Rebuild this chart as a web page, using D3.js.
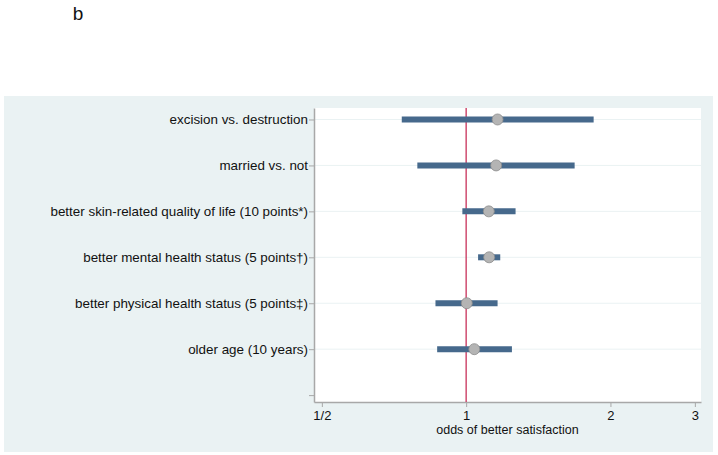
<!DOCTYPE html>
<html>
<head>
<meta charset="utf-8">
<script src="https://cdn.jsdelivr.net/npm/d3@7"></script>
<style>
body{margin:0;background:#fff;}
svg{display:block;font-family:"Liberation Sans",Arial,sans-serif;}
</style>
</head>
<body>
<svg id="c" width="718" height="455"></svg>
<script>
const labels = [
  "excision vs. destruction",
  "married vs. not",
  "better skin-related quality of life (10 points*)",
  "better mental health status (5 points\u2020)",
  "better physical health status (5 points\u2021)",
  "older age (10 years)"
];
const estimates = [1.163, 1.155, 1.115, 1.117, 1.003, 1.040];
const lowerCI   = [0.734, 0.791, 0.982, 1.059, 0.863, 0.870];
const upperCI   = [1.845, 1.684, 1.268, 1.178, 1.163, 1.246];
const xTickValues = [0.5, 1, 2, 3];
const xTickLabels = ["1/2", "1", "2", "3"];
const xTitle = "odds of better satisfaction";
const panelLabel = "b";

const svg = d3.select("#c");
// outer panel
svg.append("rect").attr("x",4).attr("y",96).attr("width",709).attr("height",356).attr("fill","#eaf2f3");
const L=314, R=701, T=108, B=402;
svg.append("rect").attr("x",L).attr("y",T).attr("width",R-L).attr("height",B-T).attr("fill","#ffffff");

const x = d3.scaleLog().domain([0.4815, 3.09]).range([L, R]);
const rows = labels.map((d,i)=>i+1).concat([7]);
const y = d3.scaleLinear().domain([0.75, 7.15]).range([T, B]);

// gridlines
svg.append("g").selectAll("line").data(labels).join("line")
  .attr("x1",L).attr("x2",R)
  .attr("y1",(d,i)=>y(i+1)).attr("y2",(d,i)=>y(i+1))
  .attr("stroke","#eaf2f3").attr("stroke-width",1);

// axes
const xAxis = d3.axisBottom(x).tickValues(xTickValues).tickFormat((d,i)=>xTickLabels[i]).tickSize(5).tickSizeOuter(0);
const gx = svg.append("g").attr("transform",`translate(0,${B})`).call(xAxis);
gx.select(".domain").attr("stroke","#a8a8a8").attr("stroke-width",1.5);
gx.selectAll(".tick line").attr("stroke","#a8a8a8");
gx.selectAll(".tick text").attr("font-size",13).attr("fill","#111").attr("dy","0.75em").attr("font-family","Liberation Sans, Arial, sans-serif");

const yAxis = d3.axisLeft(y).tickValues(rows).tickFormat(d=> d<=labels.length ? labels[d-1] : "").tickSize(5).tickSizeOuter(0);
const gy = svg.append("g").attr("transform",`translate(${L},0)`).call(yAxis);
gy.select(".domain").attr("stroke","#a8a8a8").attr("stroke-width",1.5);
gy.selectAll(".tick line").attr("stroke","#a8a8a8");
gy.selectAll(".tick text").attr("font-size",13.4).attr("fill","#111").attr("x",-6).attr("font-family","Liberation Sans, Arial, sans-serif");

// reference line
svg.append("line").attr("x1",x(1)).attr("x2",x(1)).attr("y1",T).attr("y2",B)
  .attr("stroke","#c8305a").attr("stroke-width",1.3);

// CI bars
svg.append("g").selectAll("line").data(labels).join("line")
  .attr("x1",(d,i)=>x(lowerCI[i])).attr("x2",(d,i)=>x(upperCI[i]))
  .attr("y1",(d,i)=>y(i+1)).attr("y2",(d,i)=>y(i+1))
  .attr("stroke","#46698c").attr("stroke-width",6);

// points
svg.append("g").selectAll("circle").data(labels).join("circle")
  .attr("cx",(d,i)=>x(estimates[i])).attr("cy",(d,i)=>y(i+1)).attr("r",5.5)
  .attr("fill","#b4b4b4").attr("stroke","#8c8c8c").attr("stroke-width",0.8);

// x title
svg.append("text").attr("x",(L+R)/2).attr("y",434).attr("text-anchor","middle")
  .attr("font-size",12.5).attr("fill","#111").text(xTitle);

// panel label
svg.append("text").attr("x",78).attr("y",20).attr("text-anchor","middle")
  .attr("font-size",19).attr("fill","#111").text(panelLabel);
</script>
</body>
</html>
